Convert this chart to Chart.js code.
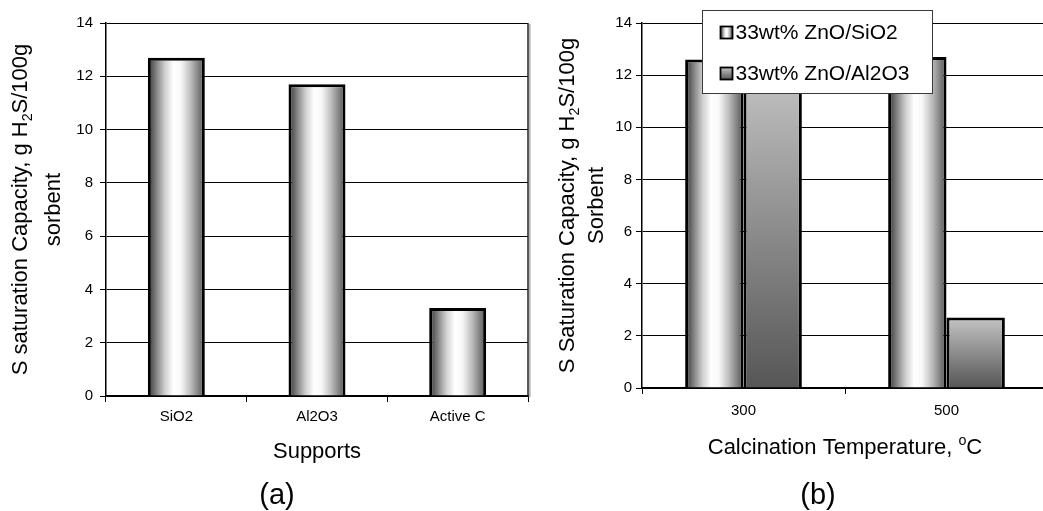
<!DOCTYPE html>
<html>
<head>
<meta charset="utf-8">
<script src="https://cdn.jsdelivr.net/npm/chart.js@4.4.0/dist/chart.umd.min.js"></script>
<style>
  html, body { margin: 0; padding: 0; background: #fff; overflow: hidden; width: 1043px; height: 511px; }
  canvas { position: absolute; top: 0; }
  #supports { left: 0; }
  #calcination { left: 540px; }
  .caption { position: absolute; font-family: "Liberation Sans", Arial, sans-serif; font-size: 29px;
             line-height: 29px; color: #000; transform: translateX(-50%); white-space: nowrap; }
</style>
</head>
<body>
<canvas id="supports" width="540" height="511"></canvas>
<canvas id="calcination" width="510" height="511"></canvas>
<div class="caption" style="left:277px; top:480px">(a)</div>
<div class="caption" style="left:818px; top:480px">(b)</div>
<script>
// (a) sulfur capacity for each support
const supportLabels = ['SiO2', 'Al2O3', 'Active C'];
const supportCapacity = [12.7, 11.7, 3.3];

// (b) sulfur capacity vs calcination temperature
const temperatureLabels = ['300', '500'];
const silicaCapacity = [12.6, 12.7];
const aluminaCapacity = [12.3, 2.7];
const seriesNames = ['33wt% ZnO/SiO2', '33wt% ZnO/Al2O3'];

// shared value axis
const yMin = 0, yMax = 14, yStep = 2;

const FONT = '"Liberation Sans", Arial, Helvetica, sans-serif';

// Fill styles: a horizontal "cylinder" shade and a top-to-bottom grey fade
function makeShade(ctx, kind, x0, y0, x1, y1) {
  let g;
  if (kind === 'cylinder') {
    g = ctx.createLinearGradient(x0, 0, x1, 0);
    g.addColorStop(0, '#333333');
    g.addColorStop(0.12, '#737373');
    g.addColorStop(0.3, '#cfcfcf');
    g.addColorStop(0.45, '#ffffff');
    g.addColorStop(0.58, '#f8f8f8');
    g.addColorStop(0.75, '#bdbdbd');
    g.addColorStop(0.9, '#7d7d7d');
    g.addColorStop(1, '#505050');
  } else {
    g = ctx.createLinearGradient(0, y0, 0, y1);
    g.addColorStop(0, '#c4c4c4');
    g.addColorStop(1, '#565656');
  }
  return g;
}

// Apply the per-bar gradient once the bars have their final geometry
const barShading = {
  id: 'barShading',
  beforeDatasetsDraw(chart) {
    const ctx = chart.ctx;
    chart.data.datasets.forEach((ds, di) => {
      chart.getDatasetMeta(di).data.forEach(bar => {
        const p = bar.getProps(['x', 'y', 'base', 'width'], true);
        const top = Math.min(p.y, p.base), bottom = Math.max(p.y, p.base);
        const fill = makeShade(ctx, ds.shade, p.x - p.width / 2, top, p.x + p.width / 2, bottom);
        bar.options = Object.assign({}, bar.options, { backgroundColor: fill });
      });
    });
  }
};

// Text with sub/superscript pieces, centred on (cx, cy), optionally rotated
function drawRich(ctx, segs, cx, cy, size, vertical) {
  const fontOf = s => s + 'px ' + FONT;
  let total = 0;
  const parts = segs.map(s => {
    const fs = (s.sub || s.sup) ? size * 0.65 : size;
    ctx.font = fontOf(fs);
    const w = ctx.measureText(s.t).width;
    total += w;
    return { s, fs, w };
  });
  ctx.save();
  ctx.translate(cx, cy);
  if (vertical) ctx.rotate(-Math.PI / 2);
  ctx.textAlign = 'left';
  ctx.textBaseline = 'alphabetic';
  ctx.fillStyle = '#000';
  let x = -total / 2;
  const base = size * 0.358;
  parts.forEach(p => {
    ctx.font = fontOf(p.fs);
    const dy = p.s.sub ? size * 0.22 : (p.s.sup ? -size * 0.42 : 0);
    ctx.fillText(p.s.t, x, base + dy);
    x += p.w;
  });
  ctx.restore();
}

// Axis titles (value axis title on two lines, with H2S subscript)
const axisText = {
  id: 'axisText',
  afterDraw(chart, args, opts) {
    const ctx = chart.ctx, a = chart.chartArea;
    const cy = (a.top + a.bottom) / 2;
    opts.yLines.forEach((segs, i) => drawRich(ctx, segs, opts.yX[i], cy, opts.size, true));
    drawRich(ctx, opts.xTitle, (a.left + a.right) / 2, opts.xY, opts.size, false);
  }
};

// Right-hand frame line of the plot area (with its soft shadow)
const plotFrame = {
  id: 'plotFrame',
  afterDraw(chart, args, opts) {
    if (!opts.right) return;
    const ctx = chart.ctx, a = chart.chartArea;
    ctx.save();
    ctx.strokeStyle = '#b0b0b0';
    ctx.lineWidth = 1.5;
    ctx.beginPath(); ctx.moveTo(a.right + 1.8, a.top + 1); ctx.lineTo(a.right + 1.8, a.bottom + 1); ctx.stroke();
    ctx.strokeStyle = '#222';
    ctx.lineWidth = 1.5;
    ctx.beginPath(); ctx.moveTo(a.right, a.top); ctx.lineTo(a.right, a.bottom); ctx.stroke();
    ctx.restore();
  }
};

// Boxed legend laid over the top of the plot area
const boxLegend = {
  id: 'boxLegend',
  afterDraw(chart, args, opts) {
    if (!opts.show) return;
    const ctx = chart.ctx, a = chart.chartArea;
    const x0 = Math.round(a.left + opts.dx) + 0.5, y0 = Math.round(a.top + opts.dy) + 0.5;
    ctx.save();
    ctx.fillStyle = '#fff';
    ctx.fillRect(x0, y0, opts.width, opts.height);
    ctx.strokeStyle = '#3a3a3a';
    ctx.lineWidth = 1;
    ctx.strokeRect(x0, y0, opts.width, opts.height);
    chart.data.datasets.forEach((ds, i) => {
      const cy = y0 + opts.rowTop + i * opts.rowGap;
      const ix = x0 + opts.pad, s = opts.box;
      ctx.fillStyle = makeShade(ctx, ds.shade, ix, cy - s / 2, ix + s, cy + s / 2);
      ctx.fillRect(ix, cy - s / 2, s, s);
      ctx.strokeStyle = '#000';
      ctx.lineWidth = 1.8;
      ctx.strokeRect(ix, cy - s / 2, s, s);
      ctx.fillStyle = '#000';
      ctx.font = opts.fontSize + 'px ' + FONT;
      ctx.textAlign = 'left';
      ctx.textBaseline = 'middle';
      ctx.fillText(ds.label, ix + s + 3, cy + 1);
    });
    ctx.restore();
  }
};

function baseOptions(cfg) {
  return {
    responsive: false,
    animation: false,
    events: [],
    layout: { padding: { top: 23, right: cfg.padRight, left: 0, bottom: 0 } },
    plugins: {
      legend: { display: false },
      tooltip: { enabled: false },
      axisText: cfg.axisText,
      plotFrame: { right: cfg.frameRight },
      boxLegend: cfg.legend || { show: false }
    },
    scales: {
      x: {
        grid: { offset: true, drawOnChartArea: false, drawTicks: true, tickLength: 6, color: '#000', lineWidth: 1 },
        border: { color: '#000', width: 1.5 },
        ticks: { color: '#000', font: { family: FONT, size: cfg.xTickSize }, padding: cfg.xTickPad, maxRotation: 0 },
        afterFit(s) { s.height = cfg.xHeight; }
      },
      y: {
        min: yMin, max: yMax,
        ticks: { stepSize: yStep, color: '#000', font: { family: FONT, size: 15 }, padding: cfg.yTickPad },
        grid: { color: '#000', lineWidth: 1, tickLength: 6 },
        border: { color: '#000', width: 1.5 },
        afterFit(s) { s.width = cfg.yWidth; }
      }
    }
  };
}

new Chart(document.getElementById('supports'), {
  type: 'bar',
  data: {
    labels: supportLabels,
    datasets: [{
      label: 'Capacity',
      data: supportCapacity,
      shade: 'cylinder',
      backgroundColor: '#ccc',
      borderColor: '#000',
      borderWidth: 3,
      barPercentage: 0.405,
      categoryPercentage: 1
    }]
  },
  options: baseOptions({
    padRight: 12, xHeight: 115, yWidth: 106, xTickSize: 15, xTickPad: 6, yTickPad: 7,
    frameRight: true,
    axisText: {
      size: 22,
      yX: [19.5, 52],
      yLines: [
        [{ t: 'S saturation Capacity, g H' }, { t: '2', sub: true }, { t: 'S/100g' }],
        [{ t: 'sorbent' }]
      ],
      xY: 450.5,
      xTitle: [{ t: 'Supports' }]
    }
  }),
  plugins: [barShading, axisText, plotFrame, boxLegend]
});

new Chart(document.getElementById('calcination'), {
  type: 'bar',
  data: {
    labels: temperatureLabels,
    datasets: [
      { label: seriesNames[0], data: silicaCapacity, shade: 'cylinder', backgroundColor: '#ccc',
        borderColor: '#000', borderWidth: 3, barPercentage: 1, categoryPercentage: 0.575 },
      { label: seriesNames[1], data: aluminaCapacity, shade: 'fade', backgroundColor: '#999',
        borderColor: '#000', borderWidth: 3, barPercentage: 1, categoryPercentage: 0.575 }
    ]
  },
  options: baseOptions({
    padRight: 2, xHeight: 123, yWidth: 102, xTickSize: 15, xTickPad: 8, yTickPad: 4,
    frameRight: false,
    axisText: {
      size: 22,
      yX: [26.5, 55],
      yLines: [
        [{ t: 'S Saturation Capacity, g H' }, { t: '2', sub: true }, { t: 'S/100g' }],
        [{ t: 'Sorbent' }]
      ],
      xY: 446,
      xTitle: [{ t: 'Calcination Temperature, ' }, { t: 'o', sup: true }, { t: 'C' }]
    },
    legend: { show: true, dx: 60, dy: -13, width: 230, height: 83, rowTop: 22, rowGap: 41, pad: 18, box: 12, fontSize: 21 }
  }),
  plugins: [barShading, axisText, plotFrame, boxLegend]
});
</script>
</body>
</html>
